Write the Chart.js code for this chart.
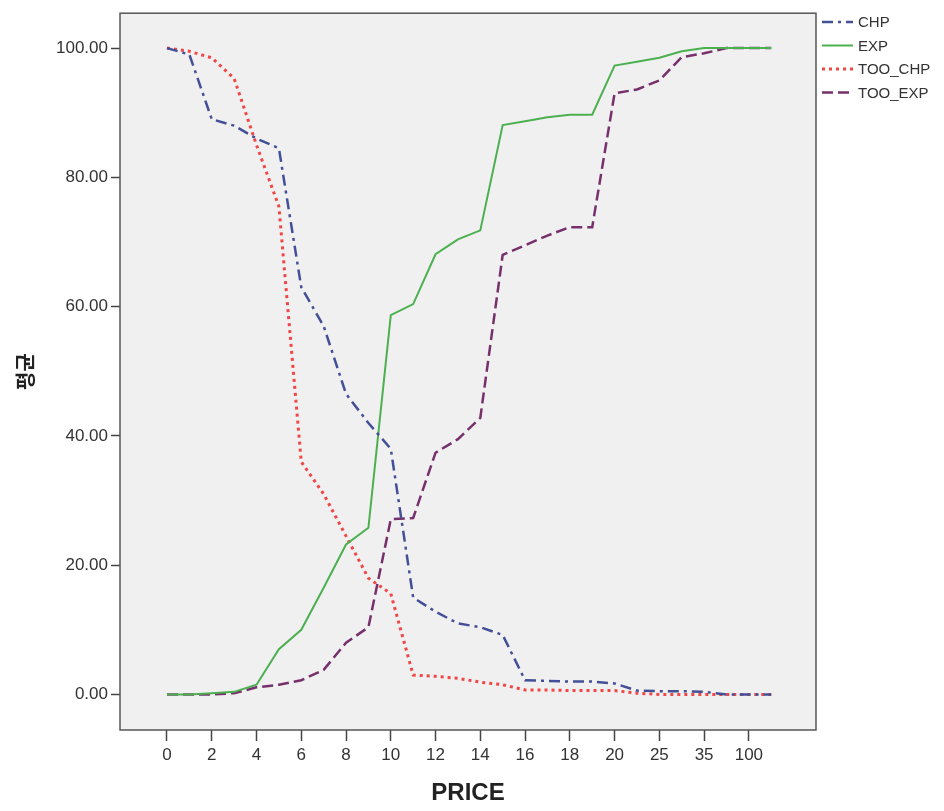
<!DOCTYPE html>
<html>
<head>
<meta charset="utf-8">
<script src="https://cdn.jsdelivr.net/npm/chart.js@4.4.1/dist/chart.umd.min.js"></script>
<style>
  body { margin: 0; background: #fff; }
</style>
</head>
<body>
<canvas id="priceChart" width="944" height="811"></canvas>
<script>
// price points (only every other one gets a label on the axis)
const priceLabels = ['0', '1', '2', '3', '4', '5', '6', '7', '8', '9', '10', '11', '12', '13', '14',
                     '15', '16', '17', '18', '19', '20', '22', '25', '30', '35', '50', '100', '150'];

// mean share of respondents per price point
const chpValues    = [100, 99, 89, 88, 86, 84.5, 63, 57, 46.5, 42, 38, 15, 12.8, 11, 10.4,
                      9.2, 2.2, 2.1, 2, 2, 1.7, 0.6, 0.5, 0.5, 0.4, 0, 0, 0];
const expValues    = [0, 0, 0.2, 0.4, 1.5, 7, 10, 16.5, 23.2, 25.8, 58.7, 60.4, 68.1, 70.4, 71.8,
                      88.1, 88.7, 89.3, 89.7, 89.7, 97.3, 97.9, 98.5, 99.5, 100, 100, 100, 100];
const tooChpValues = [100, 99.5, 98.5, 95.3, 85, 75.5, 36, 31, 24.5, 18, 15.6, 3, 2.8, 2.5, 1.9,
                      1.5, 0.7, 0.7, 0.6, 0.6, 0.6, 0.2, 0, 0, 0, 0, 0, 0];
const tooExpValues = [0, 0, 0, 0.2, 1.1, 1.5, 2.2, 3.8, 8, 10.4, 27.1, 27.3, 37.4, 39.5, 42.8,
                      68, 69.5, 71, 72.3, 72.3, 93, 93.6, 95, 98.6, 99.2, 100, 100, 100];

const yTicks = [0, 20, 40, 60, 80, 100];

const toPoints = values => values.map((v, i) => ({ x: i, y: v }));

// gray plot background and frame
const plotFrame = {
    id: 'plotFrame',
    beforeDraw(chart) {
        const { ctx, chartArea: a } = chart;
        ctx.save();
        ctx.fillStyle = '#f0f0f0';
        ctx.fillRect(a.left, a.top, a.right - a.left, a.bottom - a.top);
        ctx.restore();
    },
    afterDraw(chart) {
        const { ctx, chartArea: a } = chart;
        ctx.save();
        ctx.strokeStyle = '#555';
        ctx.lineWidth = 1.5;
        ctx.strokeRect(a.left, a.top, a.right - a.left, a.bottom - a.top);
        ctx.restore();
    }
};

// legend to the right of the plot, one row per series
const sideLegend = {
    id: 'sideLegend',
    afterDraw(chart) {
        const { ctx } = chart;
        const x0 = 822, x1 = 853, rowTop = 22, rowGap = 23.5;
        ctx.save();
        chart.data.datasets.forEach((ds, i) => {
            const y = rowTop + i * rowGap;
            ctx.beginPath();
            ctx.strokeStyle = ds.borderColor;
            ctx.lineWidth = ds.borderWidth;
            ctx.setLineDash(ds.borderDash || []);
            ctx.moveTo(x0, y);
            ctx.lineTo(x1, y);
            ctx.stroke();
            ctx.setLineDash([]);
            ctx.fillStyle = '#333';
            ctx.font = '15px "Liberation Sans", Arial, sans-serif';
            ctx.textBaseline = 'middle';
            ctx.fillText(ds.label, x1 + 5, y + 1);
        });
        ctx.restore();
    }
};

new Chart(document.getElementById('priceChart'), {
    type: 'line',
    data: {
        datasets: [
            {
                label: 'CHP',
                data: toPoints(chpValues),
                borderColor: '#434f96',
                borderWidth: 2.5,
                borderDash: [11, 5, 3, 5]
            },
            {
                label: 'EXP',
                data: toPoints(expValues),
                borderColor: '#4cb050',
                borderWidth: 2
            },
            {
                label: 'TOO_CHP',
                data: toPoints(tooChpValues),
                borderColor: '#f24545',
                borderWidth: 3,
                borderDash: [3, 4]
            },
            {
                label: 'TOO_EXP',
                data: toPoints(tooExpValues),
                borderColor: '#76306c',
                borderWidth: 2.5,
                borderDash: [11, 5]
            }
        ]
    },
    options: {
        responsive: false,
        animation: false,
        layout: { padding: { top: 9, right: 128, left: 0, bottom: 0 } },
        elements: {
            point: { radius: 0 },
            line: { tension: 0, fill: false }
        },
        plugins: {
            legend: { display: false },
            tooltip: { enabled: false }
        },
        scales: {
            x: {
                type: 'linear',
                min: -2.1,
                max: 29,
                afterFit: scale => { scale.height = 81; },
                afterBuildTicks: scale => {
                    scale.ticks = priceLabels
                        .map((_, i) => ({ value: i }))
                        .filter(t => t.value % 2 === 0);
                },
                grid: {
                    drawOnChartArea: false,
                    drawTicks: true,
                    tickLength: 11,
                    tickColor: '#444',
                    tickWidth: 1.5
                },
                border: { display: false },
                ticks: {
                    padding: 4,
                    color: '#333',
                    font: { family: '"Liberation Sans", Arial, sans-serif', size: 17 },
                    maxRotation: 0,
                    autoSkip: false,
                    callback: value => priceLabels[value]
                },
                title: {
                    display: true,
                    text: 'PRICE',
                    color: '#222',
                    font: { family: '"Liberation Sans", Arial, sans-serif', size: 24, weight: 'bold' },
                    padding: { top: 0, bottom: 3 }
                }
            },
            y: {
                min: -5.5,
                max: 105.4,
                afterFit: scale => { scale.width = 120; },
                afterBuildTicks: scale => {
                    scale.ticks = yTicks.map(v => ({ value: v }));
                },
                grid: {
                    drawOnChartArea: false,
                    drawTicks: true,
                    tickLength: 9,
                    tickColor: '#444',
                    tickWidth: 1.5
                },
                border: { display: false },
                ticks: {
                    padding: 3,
                    color: '#333',
                    font: { family: '"Liberation Sans", Arial, sans-serif', size: 17 },
                    callback: value => value.toFixed(2)
                },
                title: {
                    display: true,
                    text: '평균',
                    color: '#222',
                    font: { family: '"Noto Sans CJK KR", sans-serif', size: 20, weight: 'bold' },
                    padding: { top: 13, bottom: 0 }
                }
            }
        }
    },
    plugins: [plotFrame, sideLegend]
});
</script>
</body>
</html>
